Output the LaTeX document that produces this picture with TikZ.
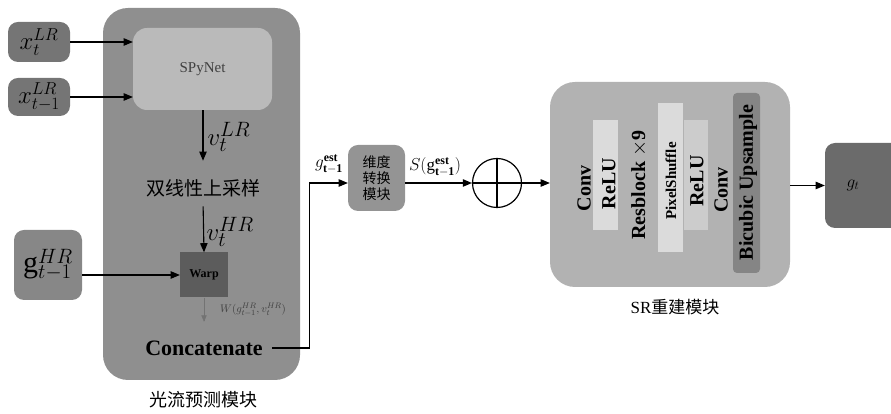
\documentclass[tikz,border=0pt]{standalone}
\usepackage{fontspec}
\setmainfont{Liberation Serif}
\newfontfamily\cjk{Noto Sans CJK SC}
\usepackage{tikz}
\usetikzlibrary{shapes}
\usetikzlibrary{arrows}
\usetikzlibrary{positioning}

\newcommand{\fsz}[1]{\fontsize{#1}{#1}\selectfont}

\tikzset{
  block/.style={rounded corners=10pt, inner sep=0pt},
  band/.style={inner sep=0pt, fill=black!14},
  collabel/.style={rotate=90, font=\bfseries\fsz{20}},
  link/.style={-triangle 45, line width=1.1pt},
}

\begin{document}
\begin{tikzpicture}[x=1pt, y=1pt, font=\fsz{12}]
        \useasboundingbox (0,0) rectangle (891,414);

        % optical flow module
        \node [block, fill=black!44, rounded corners=25pt, minimum width=197pt, minimum height=372pt] (flow) at (201.5,220) {};
        \node [block, fill=black!27, rounded corners=14pt, minimum width=139pt, minimum height=82pt, font=\fsz{15}, text=black!75] (spynet) at (202.5,345) {SPyNet};
        \node [block, fill=black!54, minimum width=62pt, minimum height=40pt, font=\fsz{26}] (xt) at (39,372) {$x_t^{LR}$};
        \node [block, fill=black!54, minimum width=62pt, minimum height=38pt, font=\fsz{25}] (xtprev) at (39,317) {$x_{t-1}^{LR}$};
        \node [font=\cjk\fsz{19}] (bilinear) at (203,226) {双线性上采样};
        \node [anchor=west, font=\fsz{28}] (vlr) at (204,277) {$v_t^{LR}$};
        \node [anchor=west, font=\fsz{28}] (vhr) at (203,182) {$v_t^{HR}$};
        \node [block, rounded corners=0pt, fill=black!64, minimum width=48pt, minimum height=45pt, font=\bfseries\fsz{12}] (warp) at (204,139) {Warp};
        \node [block, fill=black!47, minimum width=68pt, minimum height=70pt, font=\fsz{30}] (ghr) at (48,149) {$\mathrm{g}_{t-1}^{HR}$};
        \node [font=\fsz{11}, text=black!75] (wlabel) at (253,104) {$W\bigl(g^{HR}_{t-1},v_t^{HR}\bigr)$};
        \node [font=\bfseries\fsz{22}] (concat) at (204,66) {Concatenate};
        \node [font=\cjk\fsz{18}] (flowlabel) at (203,14) {光流预测模块};

        \draw [link] (xt) -- (xt -| spynet.west);
        \draw [link] (xtprev) -- (xtprev -| spynet.west);
        \draw [link, shorten >=15pt] (spynet.south -| bilinear) -- (bilinear.north);
        \draw [link, shorten <=6pt] (bilinear.south) -- (warp.north);
        \draw [link] (ghr.east |- warp.west) -- (warp.west);
        \draw [-triangle 45, black!55, thin] (warp.south) -- ++(0,-24) coordinate (wend);

        % dimension transform and fusion
        \node [block, fill=black!42, minimum width=57pt, minimum height=66pt, align=center, font=\cjk\fsz{14}] (dim) at (376.5,236) {维度\\[2pt]转换\\[2pt]模块};
        \node [circle, draw, line width=1.2pt, minimum size=49pt, inner sep=0pt] (plus) at (497,231) {};
        \draw [line width=1.2pt] (plus.north) -- (plus.south) (plus.west) -- (plus.east);
        \node [font=\fsz{17}] (gest) at (329,250) {$g_{\mathbf{t-1}}^{\mathbf{est}}$};
        \node [font=\fsz{17}] (sest) at (435,247) {$S(\mathrm{g}_{\mathbf{t-1}}^{\mathbf{est}})$};

        \draw [link] ([xshift=6pt]concat.east) -- ++(37,0) |- (plus -| dim.west);
        \draw [link] (plus -| dim.east) -- (plus.west);

        % SR reconstruction module
        \node [block, fill=black!30, rounded corners=25pt, minimum width=240pt, minimum height=205pt] (sr) at (670,229.5) {};
        \node [band, minimum width=25pt, minimum height=110pt] (reluband) at (605.5,239) {};
        \node [band, minimum width=25pt, minimum height=149pt] (psband) at (670.5,236.5) {};
        \node [band, fill=black!20, minimum width=24pt, minimum height=110pt] (relubandb) at (695.5,239) {};
        \node [band, fill=black!48, minimum width=27pt, minimum height=180pt, rounded corners=4pt] (bicband) at (746.5,231) {};
        \node [collabel] (conva) at (584,225.5) {Conv};
        \node [collabel] (relua) at (609,230.5) {ReLU};
        \node [collabel] (resblock) at (639,229) {Resblock $\times$9};
        \node [collabel, font=\bfseries\fsz{15}] (pixshuf) at (671,233) {PixelShuffle};
        \node [collabel] (relub) at (697,233) {ReLU};
        \node [collabel] (convb) at (721,224) {Conv};
        \node [collabel] (bicubic) at (748,231.5) {Bicubic Upsample};
        \node [font=\fsz{17}] (srlabel) at (675,107) {SR{\cjk 重建模块}};

        \node [block, fill=black!58, minimum width=80pt, minimum height=85pt] (out) at (865,228.5) {};
        \node [font=\fsz{17}] (outlabel) at (853,229) {$g_t$};

        \draw [link] (plus.east) -- (plus.east -| sr.west);
        \draw [link] (sr.east |- out.west) -- (out.west);
\end{tikzpicture}
\end{document}
